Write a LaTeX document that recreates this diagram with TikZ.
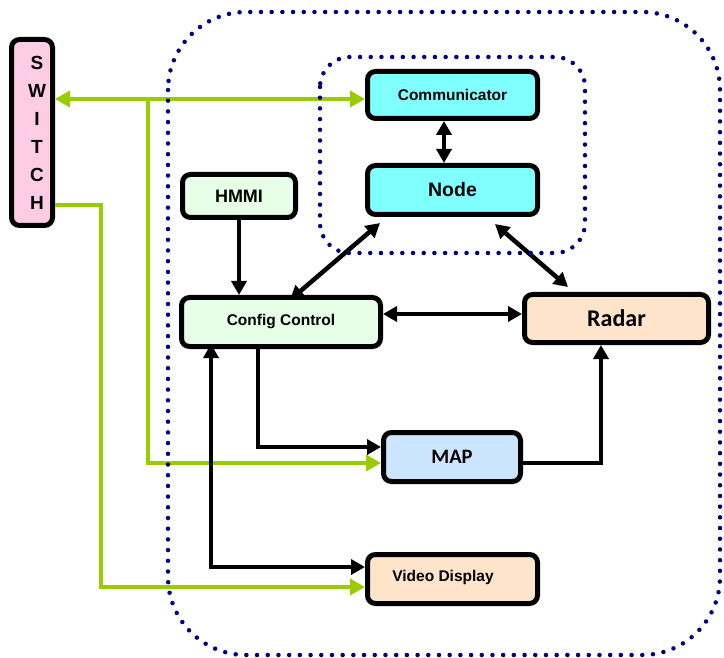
\documentclass[tikz,border=0pt]{standalone}
\usepackage{fontspec}
\setmainfont{Liberation Sans}
\newfontfamily\calfont{Carlito}
\usetikzlibrary{arrows.meta}
\definecolor{swpink}{HTML}{FFCCE6}
\definecolor{cyanbox}{HTML}{80FFFF}
\definecolor{greenbox}{HTML}{E6FFE6}
\definecolor{peach}{HTML}{FFE4CC}
\definecolor{bluebox}{HTML}{CCE5FF}
\definecolor{lime}{HTML}{99CC00}
\definecolor{navydot}{HTML}{000080}
\tikzset{
  box/.style={draw=black, line width=5pt, rounded corners=8pt, inner sep=0pt, font=\bfseries},
  blk/.style={draw=black, line width=4.5pt, -{Triangle[length=14pt,width=15pt]}},
  blk2/.style={draw=black, line width=4.5pt, {Triangle[length=14pt,width=15pt]}-{Triangle[length=14pt,width=15pt]}},
  grn/.style={draw=lime, line width=4.5pt, -{Triangle[length=15pt,width=16pt]}},
  grn2/.style={draw=lime, line width=4.5pt, {Triangle[length=15pt,width=16pt]}-{Triangle[length=15pt,width=16pt]}},
  dotbox/.style={draw=navydot, line width=4.5pt, line cap=round, dash pattern=on 0pt off 10.7pt}
}
\begin{document}
\begin{tikzpicture}[x=1pt,y=-1pt]
\useasboundingbox (0,0) rectangle (724,658);
% boxes
\node[box, fill=swpink, minimum width=41pt, minimum height=186pt] (sw) at (32,132.5) {};
\node[font=\bfseries\fontsize{19}{19}\selectfont, align=center] (swtext) at (37,132.5)
  {S\\[9pt]W\\[9pt]I\\[9pt]T\\[9pt]C\\[9pt]H};
\node[box, fill=cyanbox, minimum width=170pt, minimum height=47pt, font=\bfseries\fontsize{15.5}{15.5}\selectfont] (comm) at (452.5,95) {Communicator};
\node[box, fill=cyanbox, minimum width=170pt, minimum height=49pt, font=\bfseries\fontsize{19.5}{19.5}\selectfont] (nd) at (452.5,190) {Node};
\node[box, fill=greenbox, minimum width=113pt, minimum height=43pt, font=\bfseries\fontsize{18}{18}\selectfont] (hmmi) at (239,196) {HMMI};
\node[box, fill=greenbox, minimum width=199pt, minimum height=49pt, font=\bfseries\fontsize{15.5}{15.5}\selectfont] (cfg) at (281,322) {Config Control};
\node[box, fill=peach, minimum width=184pt, minimum height=48pt, font=\calfont\bfseries\fontsize{24}{24}\selectfont] (radar) at (616.5,318.5) {Radar};
\node[box, fill=bluebox, minimum width=137pt, minimum height=49pt, font=\calfont\bfseries\fontsize{20.5}{20.5}\selectfont] (map) at (452,457) {MAP};
\node[box, fill=peach, minimum width=170pt, minimum height=49pt] (vid) at (452.5,579) {};
\node[font=\bfseries\fontsize{15.5}{15.5}\selectfont] (vidtext) at (443,577) {Video Display};
% green connectors
\coordinate (gsplit) at (148,99);
\coordinate (g2) at (101,205);
\draw[grn2] ([yshift=-4pt]comm.west -| sw.east) -- ([yshift=-4pt]comm.west);
\draw[grn] (gsplit) |- ([yshift=-6pt]map.west);
\draw[grn] ([yshift=-72.5pt]sw.east) -- (g2) |- ([yshift=-8pt]vid.west);
% black connectors
\draw[blk2] ([xshift=-8.5pt]comm.south) -- ([xshift=-8.5pt]nd.north);
\draw[blk] (hmmi.south) -- (hmmi.south |- cfg.north);
\draw[blk2] ([xshift=15pt,yshift=-6pt]nd.south west) -- ([xshift=9pt,yshift=-5pt]cfg.north);
\draw[blk2] ([xshift=-45pt,yshift=-7pt]nd.south east) -- ([xshift=-48.5pt,yshift=5pt]radar.north);
\draw[blk2] ([yshift=8pt]cfg.east) -- ([yshift=8pt]cfg.east -| radar.west);
\draw[blk] ([xshift=-23pt]cfg.south) |- ([yshift=10pt]map.west);
\draw[blk] ([yshift=-6pt]map.east) -| ([xshift=-15.5pt]radar.south);
\draw[blk2] ([xshift=-70pt,yshift=5pt]cfg.south) |- ([yshift=12pt]vid.west);
% dotted groups
\draw[dotbox, rounded corners=78pt] (168,12) rectangle (720,655);
\draw[dotbox, rounded corners=30pt] (320,57) rectangle (585,253);
\end{tikzpicture}
\end{document}
